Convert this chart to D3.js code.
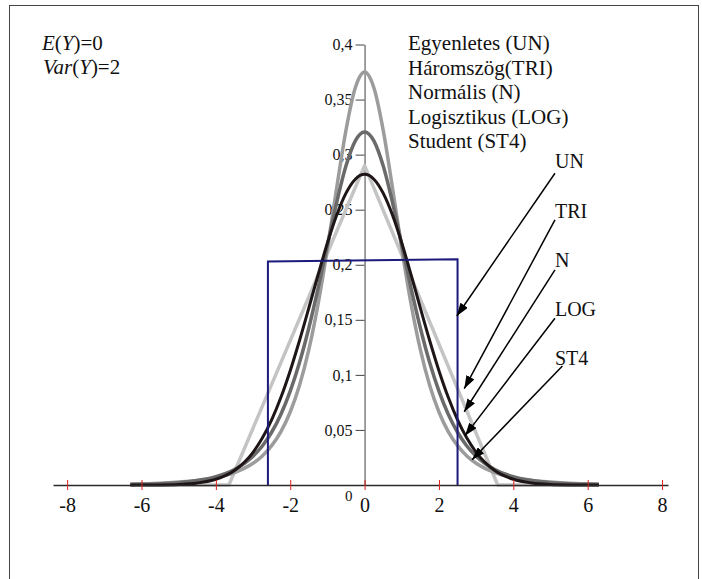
<!DOCTYPE html>
<html>
<head>
<meta charset="utf-8">
<script src="https://cdn.jsdelivr.net/npm/d3@7"></script>
<style>
  body { margin: 0; background: #fff; }
  svg { display: block; }
  svg text { font-family: "Liberation Serif", "Times New Roman", Times, "DejaVu Serif", serif; }
</style>
</head>
<body>
<div id="chart"></div>
<script>
// densities, E(Y)=0, Var(Y)=2
const xGrid = [-6.3, -6, -5.5, -5, -4.5, -4, -3.5, -3, -2.75, -2.5, -2.25, -2, -1.75, -1.5, -1.25, -1, -0.75, -0.5, -0.25,
  0, 0.25, 0.5, 0.75, 1, 1.25, 1.5, 1.75, 2, 2.25, 2.5, 2.75, 3, 3.5, 4, 4.5, 5, 5.5, 6, 6.3];

const normalY = [0.0000, 0.0000, 0.0001, 0.0005, 0.0018, 0.0052, 0.0132, 0.0297, 0.0426, 0.0591, 0.0796, 0.1038, 0.1312, 0.1607, 0.1909, 0.2197, 0.2451, 0.2650, 0.2777,
  0.2821, 0.2777, 0.2650, 0.2451, 0.2197, 0.1909, 0.1607, 0.1312, 0.1038, 0.0796, 0.0591, 0.0426, 0.0297, 0.0132, 0.0052, 0.0018, 0.0005, 0.0001, 0.0000, 0.0000];

const logisticY = [0.0004, 0.0006, 0.0011, 0.0021, 0.0040, 0.0075, 0.0141, 0.0262, 0.0354, 0.0479, 0.0643, 0.0853, 0.1112, 0.1426, 0.1788, 0.2180, 0.2566, 0.2898, 0.3125,
  0.3206, 0.3125, 0.2898, 0.2566, 0.2180, 0.1788, 0.1426, 0.1112, 0.0853, 0.0643, 0.0479, 0.0354, 0.0262, 0.0141, 0.0075, 0.0040, 0.0021, 0.0011, 0.0006, 0.0004];

const studentY = [0.0010, 0.0012, 0.0017, 0.0027, 0.0041, 0.0067, 0.0113, 0.0197, 0.0264, 0.0357, 0.0485, 0.0663, 0.0905, 0.1229, 0.1644, 0.2147, 0.2699, 0.3223, 0.3607,
  0.3750, 0.3607, 0.3223, 0.2699, 0.2147, 0.1644, 0.1229, 0.0905, 0.0663, 0.0485, 0.0357, 0.0264, 0.0197, 0.0113, 0.0067, 0.0041, 0.0027, 0.0017, 0.0012, 0.0010];

const triX = [-6.3, -3.65, 0, 3.58, 6.3];
const triY = [0, 0, 0.29, 0, 0];

const unX = [-2.6, -2.6, 2.5, 2.5];
const unY = [0, 0.203, 0.205, 0];

const xTicks = [-8, -6, -4, -2, 0, 2, 4, 6, 8];
const yTicks = [0.05, 0.1, 0.15, 0.2, 0.25, 0.3, 0.35, 0.4];

const legendLabels = ["Egyenletes (UN)", "Háromszög(TRI)", "Normális (N)", "Logisztikus (LOG)", "Student (ST4)"];

// arrow annotations (data units)
const arrowLabels = ["UN", "TRI", "N", "LOG", "ST4"];
const arrowLabelY = [0.288, 0.2428, 0.1983, 0.1538, 0.109];
const arrowFromX = [5.12, 5.12, 5.12, 5.12, 5.32];
const arrowFromY = [0.2831, 0.2407, 0.1953, 0.1514, 0.1081];
const arrowToX = [2.48, 2.68, 2.68, 2.70, 2.89];
const arrowToY = [0.1535, 0.0875, 0.0665, 0.0448, 0.0230];

const width = 702, height = 579;
const serif = "Liberation Serif, Times New Roman, Times, DejaVu Serif, serif";

const locale = d3.formatLocale({ decimal: ",", thousands: " ", grouping: [3], currency: ["", ""], minus: "-" });
const fmt = locale.format("~g");

const svg = d3.select("#chart").append("svg")
    .attr("width", width)
    .attr("height", height)
    .attr("font-family", serif);

// outer frame
svg.append("rect")
    .attr("x", 9.5).attr("y", 5.5)
    .attr("width", 689).attr("height", 620)
    .attr("fill", "none")
    .attr("stroke", "#444")
    .attr("stroke-width", 1);

const x = d3.scaleLinear().domain([-8.38, 8.16]).range([53, 668]);
const y = d3.scaleLinear().domain([0, 0.4]).range([485, 44.5]);

// y axis
const yAxis = svg.append("g")
    .attr("transform", "translate(" + x(0) + ",0)")
    .call(d3.axisLeft(y).tickValues(yTicks).tickFormat(fmt).tickSizeInner(9).tickSizeOuter(0).tickPadding(3));
yAxis.attr("font-family", serif);
yAxis.select(".domain").attr("stroke", "#808080").attr("stroke-width", 1.5);
yAxis.selectAll(".tick line").attr("stroke", "#444");
yAxis.selectAll(".tick text")
    .attr("font-size", 16)
    .attr("fill", "#111");

svg.append("text")
    .attr("x", x(0) - 12)
    .attr("y", y(0) + 16)
    .attr("text-anchor", "end")
    .attr("font-size", 15)
    .attr("fill", "#111")
    .text("0");

// curves
const smooth = d3.line()
    .x((d, i) => x(xGrid[i]))
    .y(d => y(d))
    .curve(d3.curveMonotoneX);

const straight = xs => d3.line()
    .x((d, i) => x(xs[i]))
    .y(d => y(d));

svg.append("path")
    .attr("d", straight(triX)(triY))
    .attr("fill", "none")
    .attr("stroke", "#c4c4c4")
    .attr("stroke-width", 3.5)
    .attr("stroke-linejoin", "round");

svg.append("path")
    .attr("d", smooth(studentY))
    .attr("fill", "none")
    .attr("stroke", "#9c9c9c")
    .attr("stroke-width", 3.5);

svg.append("path")
    .attr("d", smooth(logisticY))
    .attr("fill", "none")
    .attr("stroke", "#6a6a6a")
    .attr("stroke-width", 3.5);

svg.append("path")
    .attr("d", smooth(normalY))
    .attr("fill", "none")
    .attr("stroke", "#1e1616")
    .attr("stroke-width", 3);

svg.append("path")
    .attr("d", straight(unX)(unY))
    .attr("fill", "none")
    .attr("stroke", "#1c1a7a")
    .attr("stroke-width", 2);

// x axis
const xAxis = svg.append("g")
    .attr("transform", "translate(0," + y(0) + ")")
    .call(d3.axisBottom(x).tickValues(xTicks).tickFormat(fmt).tickSizeInner(5).tickSizeOuter(0).tickPadding(8));
xAxis.attr("font-family", serif);
xAxis.select(".domain").attr("stroke", "#2a2a2a").attr("stroke-width", 1.7);
xAxis.selectAll(".tick line").attr("y1", -5).attr("stroke", "#e02020").attr("stroke-width", 1);
xAxis.selectAll(".tick text")
    .attr("font-size", 20)
    .attr("fill", "#111");

// E(Y), Var(Y)
const moments = svg.append("g").attr("font-size", 21).attr("fill", "#111");
const t1 = moments.append("text").attr("x", 42).attr("y", 50);
t1.append("tspan").attr("font-style", "italic").text("E");
t1.append("tspan").text("(");
t1.append("tspan").attr("font-style", "italic").text("Y");
t1.append("tspan").text(")=0");
const t2 = moments.append("text").attr("x", 43).attr("y", 74);
t2.append("tspan").attr("font-style", "italic").text("Var");
t2.append("tspan").text("(");
t2.append("tspan").attr("font-style", "italic").text("Y");
t2.append("tspan").text(")=2");

// legend
svg.append("g")
    .selectAll("text")
    .data(legendLabels)
    .enter()
    .append("text")
    .attr("x", 408)
    .attr("y", (d, i) => 50 + i * 24.5)
    .attr("font-size", 21)
    .attr("fill", "#111")
    .text(d => d);

// arrows
svg.append("defs").append("marker")
    .attr("id", "head")
    .attr("markerUnits", "userSpaceOnUse")
    .attr("viewBox", "0 0 13 9")
    .attr("refX", 13).attr("refY", 4.5)
    .attr("markerWidth", 13).attr("markerHeight", 9)
    .attr("orient", "auto")
    .append("path")
    .attr("d", "M0,0 L13,4.5 L0,9 z")
    .attr("fill", "#000");

svg.append("g")
    .selectAll("line")
    .data(arrowLabels)
    .enter()
    .append("line")
    .attr("x1", (d, i) => x(arrowFromX[i]))
    .attr("y1", (d, i) => y(arrowFromY[i]))
    .attr("x2", (d, i) => x(arrowToX[i]))
    .attr("y2", (d, i) => y(arrowToY[i]))
    .attr("stroke", "#000")
    .attr("stroke-width", 1.5)
    .attr("marker-end", "url(#head)");

svg.append("g")
    .selectAll("text")
    .data(arrowLabels)
    .enter()
    .append("text")
    .attr("x", x(5.12))
    .attr("y", (d, i) => y(arrowLabelY[i]))
    .attr("font-size", 20)
    .attr("fill", "#111")
    .text(d => d);
</script>
</body>
</html>
